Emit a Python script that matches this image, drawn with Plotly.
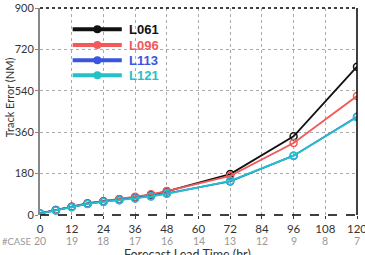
import plotly.graph_objects as go

hours = [0, 6, 12, 18, 24, 30, 36, 42, 48, 72, 96, 120]
L061 = [7, 22, 36, 50, 60, 68, 77, 88, 103, 178, 342, 645]
L096 = [7, 22, 36, 50, 60, 69, 79, 90, 104, 170, 313, 517]
L113 = [7, 21, 35, 49, 58, 65, 73, 82, 94, 146, 258, 427]
L121 = [6, 20, 34, 48, 57, 64, 72, 81, 92, 148, 258, 425]
series_names = ["L061", "L096", "L113", "L121"]
series_colors = ["#111111", "#f05a5a", "#3a55e0", "#22c2c8"]
tick_hours = [0, 12, 24, 36, 48, 60, 72, 84, 96, 108, 120]
case_counts = [20, 19, 18, 17, 16, 14, 13, 12, 9, 8, 7]
y_ticks = [0, 180, 360, 540, 720, 900]

fig = go.Figure()
for name, vals, col in zip(series_names, [L061, L096, L113, L121], series_colors):
    fig.add_trace(go.Scatter(
        x=hours, y=vals, mode="lines+markers", name=name,
        line=dict(color=col, width=1.8),
        marker=dict(symbol="circle-open", size=7, color=col, line=dict(width=1.5)),
        showlegend=False))

shapes = []
annotations = []
leg_y = [0.897, 0.821, 0.747, 0.675]
for i, (name, col) in enumerate(zip(series_names, series_colors)):
    fig.add_trace(go.Scatter(
        x=[0.103, 0.258], y=[leg_y[i]] * 2, xaxis="x2", yaxis="y2", mode="lines",
        line=dict(color=col, width=4), showlegend=False, hoverinfo="skip"))
    fig.add_trace(go.Scatter(
        x=[0.181], y=[leg_y[i]], xaxis="x2", yaxis="y2", mode="markers",
        marker=dict(symbol="circle", size=8, color=col), showlegend=False, hoverinfo="skip"))
    annotations.append(dict(x=0.275, y=leg_y[i], xref="x2", yref="y2", text="<b>%s</b>" % name,
                            showarrow=False, xanchor="left", yanchor="middle",
                            font=dict(family="Liberation Sans", size=13, color=col)))

for h, c in zip(tick_hours, case_counts):
    annotations.append(dict(x=h, y=-0.126, xref="x", yref="paper", text=str(c), showarrow=False,
                            xanchor="center", yanchor="middle",
                            font=dict(family="Lato", size=10.5, color="#999999")))
annotations.append(dict(x=-0.127, y=-0.126, xref="paper", yref="paper", text="#CASE", showarrow=False,
                        xanchor="left", yanchor="middle",
                        font=dict(family="Lato", size=9.5, color="#999999")))
annotations.append(dict(x=0.464, y=-0.19, xref="paper", yref="paper", text="Forecast Lead Time (hr)",
                        showarrow=False, xanchor="center", yanchor="middle",
                        font=dict(family="Lato", size=12.5, color="#333333")))
annotations.append(dict(x=-0.097, y=0.57, xref="paper", yref="paper", text="Track Error (NM)",
                        showarrow=False, xanchor="center", yanchor="middle", textangle=-90,
                        font=dict(family="Lato", size=11, color="#333333")))

shapes.append(dict(type="line", xref="paper", yref="paper", x0=0, x1=1, y0=1, y1=1,
                   line=dict(color="black", width=1.5, dash="dot")))
shapes.append(dict(type="line", xref="paper", yref="paper", x0=1, x1=1, y0=0, y1=1,
                   line=dict(color="black", width=1.5)))
shapes.append(dict(type="line", xref="paper", yref="paper", x0=0, x1=1, y0=0, y1=0,
                   line=dict(color="black", width=1.5, dash="dash")))

fig.update_layout(
    width=365, height=255,
    margin=dict(l=40, r=8, t=8, b=40, autoexpand=False),
    paper_bgcolor="white", plot_bgcolor="white",
    font=dict(family="Lato", size=11.5, color="#333333"),
    xaxis=dict(range=[0, 120], tickvals=tick_hours, ticks="outside", ticklen=3, tickcolor="#333",
               showgrid=True, gridcolor="#aaaaaa", griddash="dot", gridwidth=1,
               zeroline=False, showline=False, automargin=False,
               ticklabeloverflow="allow"),
    yaxis=dict(range=[0, 900], tickvals=y_ticks, ticks="outside", ticklen=3, tickcolor="#888",
               showgrid=True, gridcolor="#aaaaaa", griddash="dot", gridwidth=1,
               zeroline=False, showline=True, linecolor="#888888", linewidth=2,
               tickfont=dict(size=11), ticklabelstandoff=-1,
               automargin=False, ticklabeloverflow="allow"),
    xaxis2=dict(domain=[0, 1], range=[0, 1], overlaying="x", visible=False, fixedrange=True),
    yaxis2=dict(domain=[0, 1], range=[0, 1], overlaying="y", visible=False, fixedrange=True),
    shapes=shapes, annotations=annotations, showlegend=False,
)
fig.write_html("out.html")
